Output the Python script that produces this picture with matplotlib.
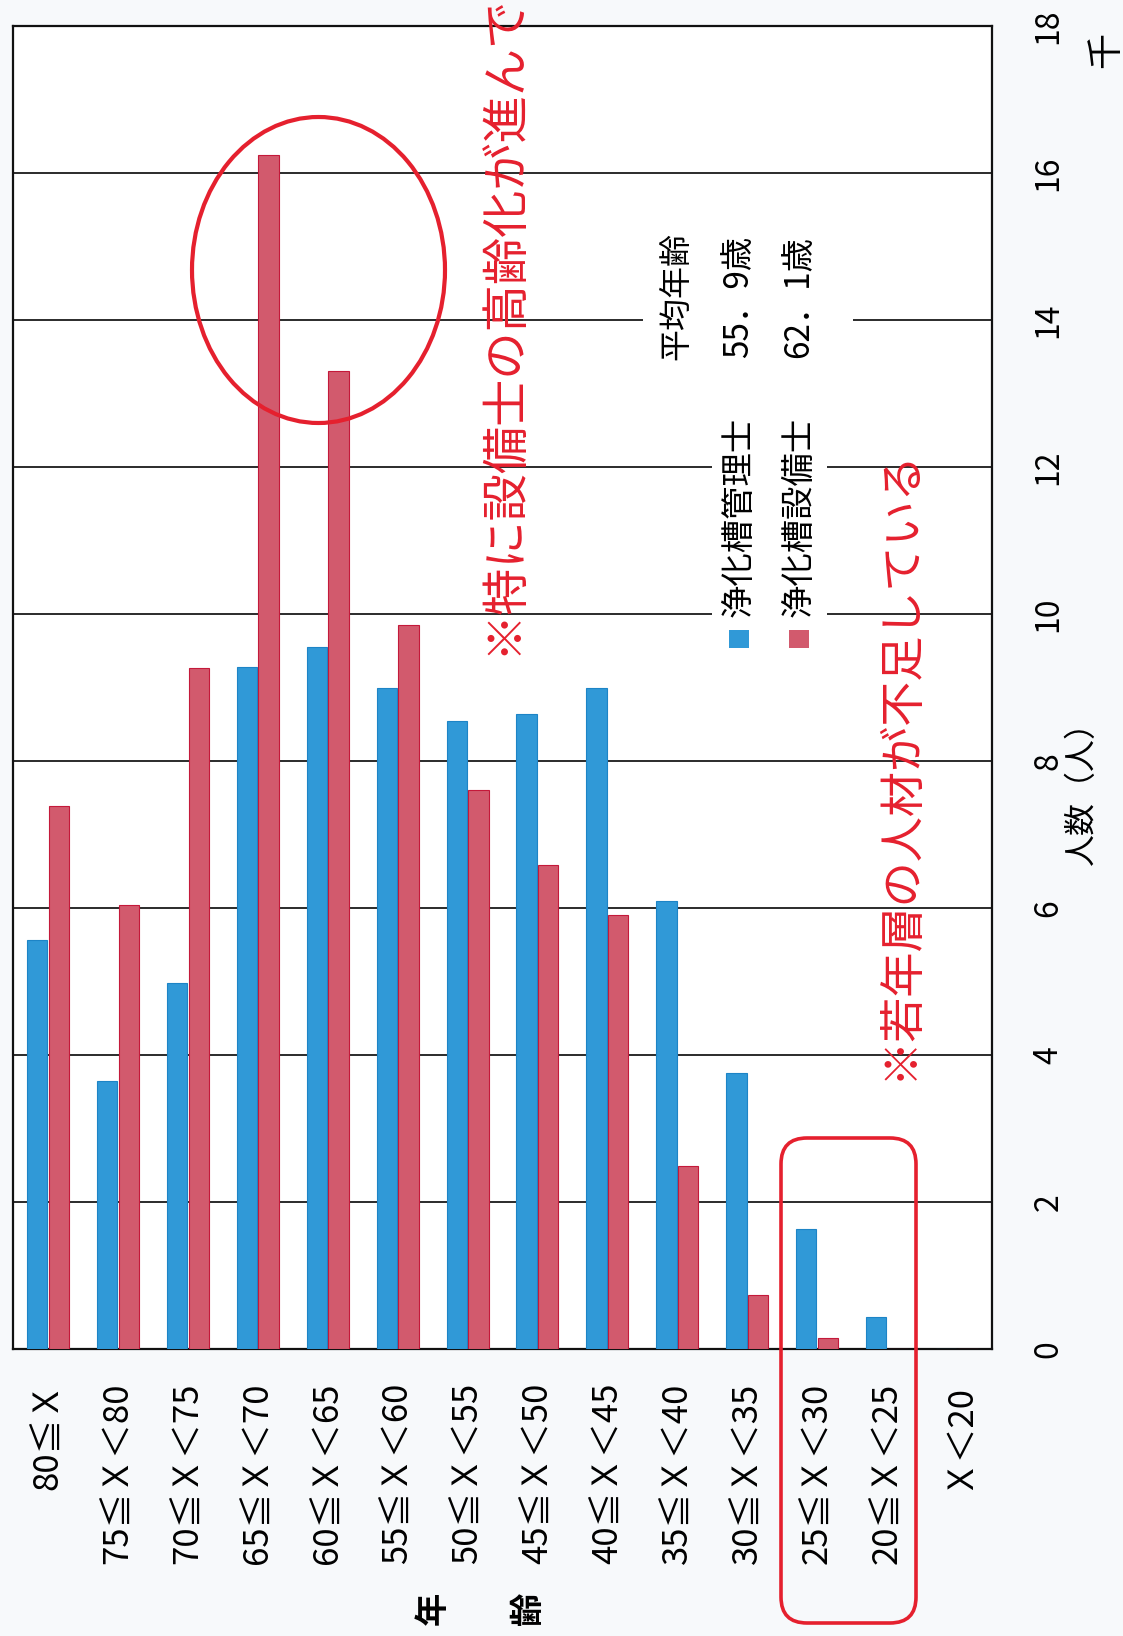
import numpy as np
import matplotlib.pyplot as plt
from matplotlib.patches import Ellipse, FancyBboxPatch, Rectangle

plt.rcParams['font.family'] = ['Noto Sans CJK JP', 'DejaVu Sans']

W, H = 1123, 1636

age_groups = ['80≦Ｘ', '75≦Ｘ＜80', '70≦Ｘ＜75', '65≦Ｘ＜70', '60≦Ｘ＜65',
              '55≦Ｘ＜60', '50≦Ｘ＜55', '45≦Ｘ＜50', '40≦Ｘ＜45', '35≦Ｘ＜40',
              '30≦Ｘ＜35', '25≦Ｘ＜30', '20≦Ｘ＜25', 'Ｘ＜20']
# 人数（千人）
kanrishi = [5.56, 3.64, 4.98, 9.28, 9.55, 8.99, 8.55, 8.64, 8.99, 6.10, 3.75, 1.63, 0.44, 0]
setsubishi = [7.39, 6.04, 9.26, 16.25, 13.31, 9.85, 7.61, 6.59, 5.91, 2.49, 0.73, 0.15, 0, 0]
series_names = ['浄化槽管理士', '浄化槽設備士']
mean_ages = ['55．9歳', '62．1歳']
value_ticks = list(range(0, 19, 2))

BLUE, BLUE_EDGE = '#3099d7', '#1d84c6'
ROSE, ROSE_EDGE = '#d25a6d', '#c4193a'
RED = '#e5202e'


def fx(x):
    return x / W


def fy(y):
    return 1 - y / H


fig = plt.figure(figsize=(W / 100, H / 100), dpi=100, facecolor='#f7f9fb')
ax = fig.add_axes([fx(13), fy(1349), (992 - 13) / W, (1349 - 26) / H])
ax.set_facecolor('white')

x = np.arange(len(age_groups))
ax.bar(x - 0.155, kanrishi, 0.29, color=BLUE, edgecolor=BLUE_EDGE, lw=0.8, zorder=3)
ax.bar(x + 0.155, setsubishi, 0.29, color=ROSE, edgecolor=ROSE_EDGE, lw=0.8, zorder=3)

ax.set_xlim(-0.5, len(age_groups) - 0.5)
ax.set_ylim(0, 18)
ax.set_xticks(x)
ax.set_xticklabels(age_groups, rotation=90, fontsize=25)
ax.tick_params(axis='x', length=0, pad=24)

ax.yaxis.tick_right()
ax.set_yticks(value_ticks)
ax.tick_params(axis='y', length=0, pad=29, labelsize=23, labelrotation=90)
for lbl in ax.get_yticklabels():
    lbl.set_va('center')

ax.grid(axis='y', color='#1a1a1a', lw=1.3)
ax.grid(axis='x', visible=False)
ax.set_axisbelow(True)
for sp in ax.spines.values():
    sp.set_linewidth(1.6)
    sp.set_color('#111111')

# axis titles
fig.text(fx(1082), fy(785), '人数（人）', rotation=90, ha='center', va='center',
         fontsize=23)
fig.text(fx(1106), fy(50), '千', rotation=90, ha='center', va='center', fontsize=26)
fig.text(fx(433), fy(1608), '年', rotation=90, ha='center', va='center',
         fontsize=24, fontweight='bold')
fig.text(fx(528), fy(1608), '齢', rotation=90, ha='center', va='center',
         fontsize=24, fontweight='bold')

# legend and average-age boxes
fig.add_artist(Rectangle((fx(712), fy(655)), (827 - 712) / W, (655 - 395) / H,
                         transform=fig.transFigure, facecolor='white',
                         edgecolor='none', zorder=2))
fig.add_artist(Rectangle((fx(643), fy(378)), (853 - 643) / W, (378 - 215) / H,
                         transform=fig.transFigure, facecolor='white',
                         edgecolor='none', zorder=2))
for cx, col, name, age in [(739, BLUE, series_names[0], mean_ages[0]),
                           (799, ROSE, series_names[1], mean_ages[1])]:
    fig.add_artist(Rectangle((fx(cx - 10), fy(648)), 20 / W, 18 / H,
                             transform=fig.transFigure, facecolor=col,
                             edgecolor='none', zorder=3))
    fig.text(fx(cx), fy(517), name, rotation=90, ha='center', va='center',
             fontsize=24, zorder=4)
    fig.text(fx(cx), fy(297), age, rotation=90, ha='center', va='center',
             fontsize=24, zorder=4)
fig.text(fx(677), fy(296), '平均年齢', rotation=90, ha='center', va='center',
         fontsize=23, zorder=4)

# red annotations
fig.add_artist(Ellipse((fx(318.5), fy(270)), 253 / W, 306 / H,
                       transform=fig.transFigure, fill=False,
                       edgecolor=RED, lw=3, zorder=5))
fig.add_artist(FancyBboxPatch((fx(781), fy(1623)), (916 - 781) / W, (1623 - 1138) / H,
                              boxstyle='round,pad=0,rounding_size=%f' % (26 / W),
                              mutation_aspect=W / H, transform=fig.transFigure,
                              fill=False, edgecolor=RED, lw=2.6, zorder=5))
fig.text(fx(503), fy(655), '※特に設備士の高齢化が進んで', rotation=90,
         rotation_mode='anchor', ha='left', va='center', fontsize=34,
         color=RED, zorder=6)
fig.text(fx(900), fy(1080), '※若年層の人材が不足している', rotation=90,
         rotation_mode='anchor', ha='left', va='center', fontsize=32.5,
         color=RED, zorder=6)

fig.savefig('out.png', dpi=100, facecolor=fig.get_facecolor())
